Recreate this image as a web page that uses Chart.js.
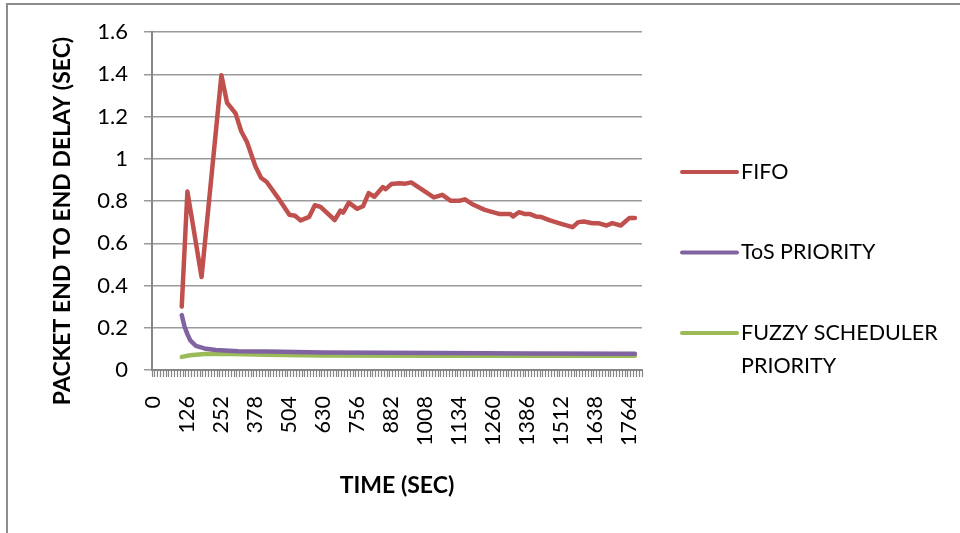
<!DOCTYPE html>
<html>
<head>
<meta charset="utf-8">
<title>Packet end to end delay</title>
<script src="https://cdn.jsdelivr.net/npm/chart.js@4.4.0/dist/chart.umd.min.js"></script>
<style>
  html, body { margin: 0; padding: 0; background: #ffffff; }
  canvas { display: block; }
</style>
</head>
<body>
<canvas id="chart" width="960" height="533"></canvas>
<script>
// Time axis: one slot every 10.5 s, labelled every 126 s
const timeStep = 10.5;
const slotCount = 173;
const timeTickLabels = [0, 126, 252, 378, 504, 630, 756, 882, 1008, 1134, 1260, 1386, 1512, 1638, 1764];

// Delay axis ticks (seconds)
const delayTicks = [0, 0.2, 0.4, 0.6, 0.8, 1, 1.2, 1.4, 1.6];

// FIFO queueing
const fifoTime = [105, 126, 178.5, 252, 273, 304.5, 325.5, 346.5, 378, 399,
  420, 462, 504, 525, 546, 577.5, 598.5, 619.5, 672, 693,
  703.5, 724.5, 756, 777, 798, 819, 850.5, 861, 882, 913.5,
  934.5, 955.5, 1039.5, 1071, 1102.5, 1134, 1155, 1186.5, 1228.5, 1281,
  1323, 1333.5, 1354.5, 1375.5, 1396.5, 1417.5, 1438.5, 1470, 1512, 1554,
  1575, 1596, 1627.5, 1648.5, 1680, 1701, 1732.5, 1764, 1785];
const fifoDelay = [0.30, 0.845, 0.44, 1.395, 1.265, 1.215, 1.13, 1.08, 0.965, 0.91,
  0.89, 0.815, 0.735, 0.73, 0.708, 0.725, 0.78, 0.772, 0.71, 0.754,
  0.745, 0.792, 0.763, 0.775, 0.837, 0.82, 0.866, 0.856, 0.88, 0.884,
  0.882, 0.888, 0.817, 0.829, 0.801, 0.801, 0.808, 0.782, 0.758, 0.739,
  0.738, 0.727, 0.747, 0.739, 0.738, 0.727, 0.724, 0.708, 0.692, 0.676,
  0.70, 0.703, 0.695, 0.695, 0.684, 0.695, 0.684, 0.719, 0.719];

// ToS priority queueing
const tosTime = [105, 115.5, 126, 136.5, 157.5, 189, 231, 315, 420, 630, 1050, 1400, 1785];
const tosDelay = [0.26, 0.205, 0.17, 0.14, 0.114, 0.102, 0.095, 0.089, 0.087, 0.083, 0.08, 0.078, 0.077];

// Fuzzy scheduler priority
const fuzzyTime = [105, 136.5, 189, 252, 420, 630, 1050, 1400, 1785];
const fuzzyDelay = [0.062, 0.07, 0.076, 0.077, 0.072, 0.069, 0.068, 0.068, 0.068];

const seriesNames = ['FIFO', 'ToS PRIORITY', 'FUZZY SCHEDULER PRIORITY'];
const seriesColors = ['#C0504D', '#8064A2', '#9BBB59'];

const xTitle = 'TIME (SEC)';
const yTitle = 'PACKET END TO END DELAY (SEC)';

const FONT = 'Lato';
const axisGray = '#868686';
const gridGray = '#9a9a9a';

const toPoints = (xs, ys) => xs.map((x, i) => ({ x: x, y: ys[i] }));
const labelSet = new Set(timeTickLabels);

// Outer frame, rotated value-axis title and the side legend
const decorations = {
  id: 'decorations',
  beforeDraw(chart) {
    const ctx = chart.ctx;
    ctx.save();
    ctx.fillStyle = '#ffffff';
    ctx.fillRect(0, 0, chart.width, chart.height);
    ctx.strokeStyle = '#8c8c8c';
    ctx.lineWidth = 2;
    ctx.beginPath();
    ctx.moveTo(7, chart.height + 2);
    ctx.lineTo(7, 4);
    ctx.lineTo(chart.width + 2, 4);
    ctx.stroke();
    ctx.restore();
  },
  afterDraw(chart) {
    const ctx = chart.ctx;
    const area = chart.chartArea;
    ctx.save();
    // value axis title
    ctx.fillStyle = '#000000';
    ctx.font = 'bold 23px ' + FONT;
    ctx.textAlign = 'center';
    ctx.textBaseline = 'middle';
    ctx.translate(63, area.top + 189);
    ctx.rotate(-Math.PI / 2);
    ctx.fillText(yTitle, 0, 0);
    ctx.restore();

    // legend
    ctx.save();
    ctx.font = '21.5px ' + FONT;
    ctx.textBaseline = 'middle';
    ctx.textAlign = 'left';
    const lineX0 = area.right + 40;
    const lineX1 = lineX0 + 55;
    const textX = lineX1 + 4;
    const maxTextWidth = 215;
    let y = area.top + 140;
    chart.data.datasets.forEach((ds) => {
      // wrap label into lines
      const words = ds.label.split(' ');
      const lines = [];
      let cur = '';
      words.forEach((w) => {
        const test = cur ? cur + ' ' + w : w;
        if (ctx.measureText(test).width > maxTextWidth && cur) {
          lines.push(cur);
          cur = w;
        } else {
          cur = test;
        }
      });
      if (cur) lines.push(cur);

      ctx.strokeStyle = ds.borderColor;
      ctx.lineWidth = 4;
      ctx.lineCap = 'round';
      ctx.beginPath();
      ctx.moveTo(lineX0, y);
      ctx.lineTo(lineX1, y);
      ctx.stroke();
      ctx.fillStyle = '#000000';
      lines.forEach((ln, i) => ctx.fillText(ln, textX, y + i * 33.5));
      y += 80.5;
    });
    ctx.restore();
  }
};

const makeSet = (label, color, xs, ys) => ({
  label: label,
  data: toPoints(xs, ys),
  borderColor: color,
  backgroundColor: color,
  borderWidth: 4.5,
  pointRadius: 0,
  pointHoverRadius: 0,
  tension: 0,
  borderJoinStyle: 'round',
  borderCapStyle: 'round',
  fill: false
});

new Chart(document.getElementById('chart'), {
  type: 'line',
  data: {
    datasets: [
      makeSet(seriesNames[0], seriesColors[0], fifoTime, fifoDelay),
      makeSet(seriesNames[1], seriesColors[1], tosTime, tosDelay),
      makeSet(seriesNames[2], seriesColors[2], fuzzyTime, fuzzyDelay)
    ]
  },
  options: {
    responsive: false,
    animation: false,
    devicePixelRatio: 1,
    layout: { padding: { left: 0, top: 32, right: 318, bottom: 0 } },
    plugins: {
      legend: { display: false },
      tooltip: { enabled: false }
    },
    scales: {
      x: {
        type: 'linear',
        min: -timeStep / 2,
        max: (slotCount - 0.5) * timeStep,
        afterBuildTicks(scale) {
          const ticks = [];
          for (let k = 0; k <= slotCount; k++) ticks.push({ value: (k - 0.5) * timeStep });
          timeTickLabels.forEach((v) => ticks.push({ value: v }));
          ticks.sort((a, b) => a.value - b.value);
          scale.ticks = ticks;
        },
        afterFit(scale) { scale.height = 163; },
        ticks: {
          autoSkip: false,
          minRotation: 90,
          maxRotation: 90,
          padding: 19,
          color: '#000000',
          font: { family: FONT, size: 21.5 },
          callback: (v) => (labelSet.has(v) ? String(v) : '')
        },
        grid: {
          drawOnChartArea: false,
          tickLength: 7,
          tickWidth: 1.2,
          tickColor: (ctx) => (ctx.tick && labelSet.has(ctx.tick.value) ? 'rgba(0,0,0,0)' : axisGray)
        },
        border: { color: axisGray, width: 2 },
        title: {
          display: true,
          text: xTitle,
          color: '#000000',
          font: { family: FONT, size: 23, weight: 'bold' },
          padding: { top: 0, bottom: 34 }
        }
      },
      y: {
        min: 0,
        max: 1.6,
        afterBuildTicks(scale) {
          scale.ticks = delayTicks.map((v) => ({ value: v }));
        },
        afterFit(scale) { scale.width = 152; },
        ticks: {
          padding: 16,
          color: '#000000',
          font: { family: FONT, size: 22 },
          callback: (v) => String(Number(v.toFixed(1)))
        },
        grid: { color: gridGray, lineWidth: 1.5, tickLength: 8 },
        border: { color: axisGray, width: 2 }
      }
    }
  },
  plugins: [decorations]
});
</script>
</body>
</html>
